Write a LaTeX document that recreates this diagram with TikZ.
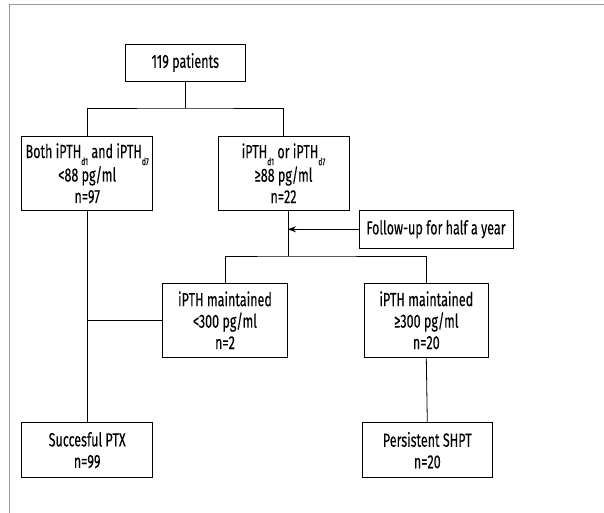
\documentclass[tikz,border=0pt]{standalone}
\usepackage{fontspec}
\setmainfont[FakeStretch=0.66,FakeBold=0.2]{Fira Sans}
\usetikzlibrary{arrows.meta}
\newcommand{\sbs}[1]{\raisebox{-0.7ex}{\fontsize{10}{10}\selectfont #1}}
\begin{document}
\begin{tikzpicture}[x=1pt,y=-1pt,
  box/.style={draw, line width=0.8pt, align=center, inner sep=1pt,
    font=\fontsize{19}{21.5}\selectfont},
  link/.style={line width=0.8pt},
  frame/.style={draw=gray!80, line width=1pt}]
\useasboundingbox (0,0) rectangle (604,513);
\draw[frame] (9.5,513) -- (9.5,5) -- (604,5);
\node[box, minimum width=120.7pt, minimum height=37pt] (top) at (185.3,62.5) {119 patients};
\node[box, minimum width=131pt, minimum height=74.7pt] (l1) at (87.2,173.3)
  {Both iPTH\sbs{d1} and iPTH\sbs{d7}\\<88 pg/ml\\n=97};
\node[box, minimum width=131pt, minimum height=74.7pt] (r1) at (283.5,173.3)
  {iPTH\sbs{d1} or iPTH\sbs{d7}\\≥88 pg/ml\\n=22};
\node[box, minimum width=154pt, minimum height=37.3pt] (fu) at (436,229.3) {Follow-up for half a year};
\node[box, minimum width=124.7pt, minimum height=74.7pt] (m2) at (225,320.3)
  {iPTH maintained\\<300 pg/ml\\n=2};
\node[box, minimum width=124.7pt, minimum height=74.7pt] (r2) at (426.3,320.3)
  {iPTH maintained\\≥300 pg/ml\\n=20};
\node[box, minimum width=131pt, minimum height=55pt] (s) at (87.2,450.2)
  {Succesful PTX\\n=99};
\node[box, minimum width=130.7pt, minimum height=55pt] (p) at (427.3,450.2)
  {Persistent SHPT\\n=20};
\coordinate (t1) at (185.3,108);
\coordinate (j1) at (288,229.3);
\coordinate (j2) at (288,256);
% top split
\draw[link] (top.south) -- (t1);
\draw[link] (l1.north) |- (t1) -| (r1.north);
% right branch
\draw[link] (r1.south -| j1) -- (j2);
\draw[link] (m2.north) |- (j2) -| (r2.north);
\draw[link, -{Stealth[length=8pt,width=6pt]}] (fu.west) -- (j1);
% left branch
\draw[link] (l1.south) -- (s.north);
\draw[link] (m2.west) -- (m2.west -| l1.south);
\draw[link] (r2.south) -- (p.north);
\end{tikzpicture}
\end{document}
